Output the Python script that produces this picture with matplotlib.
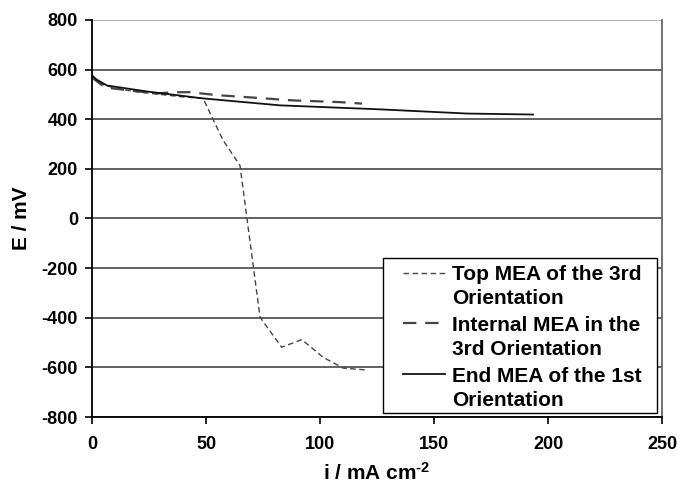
import numpy as np
import matplotlib.pyplot as plt
from matplotlib.lines import Line2D
from matplotlib.patches import Rectangle

# polarisation data
top_i = [0, 5, 10, 20, 30, 40, 48.7, 57.5, 64.9, 73.7, 83.2, 92, 101.3, 110.2, 119.7]
top_e = [570, 540, 525, 510, 500, 490, 484, 315, 214, -398, -519, -488, -559, -603, -610]

int_i = [0, 5.7, 16.7, 28.5, 35.5, 43, 55, 68, 88, 108.8, 118.4]
int_e = [568, 528, 516, 504, 509, 509, 497, 489, 476, 469, 463]

end_i = [0, 2, 6.6, 24, 48.7, 82.5, 126, 164.5, 193.4]
end_e = [577, 560, 536, 512, 484, 456, 440, 423, 419]

labels = ['Top MEA of the 3rd\nOrientation',
          'Internal MEA in the\n3rd Orientation',
          'End MEA of the 1st\nOrientation']

plt.rcParams['font.family'] = ['Liberation Sans', 'DejaVu Sans']
plt.rcParams['font.weight'] = 'bold'
plt.rcParams['axes.unicode_minus'] = False
plt.rcParams['mathtext.fontset'] = 'custom'
plt.rcParams['mathtext.bf'] = 'Liberation Sans:bold'
plt.rcParams['mathtext.rm'] = 'Liberation Sans:bold'
plt.rcParams['mathtext.default'] = 'bf'

W, H = 677, 483
fig = plt.figure(figsize=(W/100, H/100), dpi=100)
ax = fig.add_axes([92/W, 1 - 417/H, 570/W, 397/H])

styles = [dict(color='#444444', lw=1.0, dashes=(4, 2.5)),
          dict(color='#444444', lw=1.6, dashes=(6, 4)),
          dict(color='#111111', lw=1.3)]

ax.plot(top_i, top_e, **styles[0])
ax.plot(int_i, int_e, **styles[1])
ax.plot(end_i, end_e, **styles[2])

ax.set_xlim(0, 250)
ax.set_ylim(-800, 800)
ax.set_xticks(np.arange(0, 251, 50))
ax.set_yticks(np.arange(-800, 801, 200))
ax.grid(axis='y', color='#555555', lw=1.3)
ax.set_axisbelow(True)
ax.get_ygridlines()[-1].set_color('#aaaaaa')
for s in ['top', 'right']:
    ax.spines[s].set_visible(False)
ax.spines['left'].set_linewidth(1.3)
ax.spines['bottom'].set_linewidth(1.3)
ax.tick_params(direction='out', length=5, width=1.2, labelsize=13)
ax.tick_params(axis='x', pad=9)
ax.tick_params(axis='y', pad=5)
for t in ax.get_xticklabels() + ax.get_yticklabels():
    t.set_fontweight('bold')
ax.axvline(250, color='#666666', lw=1.3, clip_on=False)

ax.set_xlabel(r'i / mA cm$^{\text{-2}}$', fontsize=15, fontweight='bold', labelpad=6)
ax.set_ylabel('E / mV', fontsize=15, fontweight='bold', labelpad=8)

# legend box drawn by hand (handle sits on the first line of each label)
def fx(px):
    return px / W

def fy(py):
    return 1 - py / H

fig.patches.append(Rectangle((fx(383), fy(413)), fx(657) - fx(383), fy(258) - fy(413),
                             transform=fig.transFigure, facecolor='white',
                             edgecolor='black', lw=1.0, zorder=5))
row_y = [272.7, 323.3, 374]
for lab, st, yy in zip(labels, styles, row_y):
    fig.add_artist(Line2D([fx(403), fx(445)], [fy(yy), fy(yy)],
                          transform=fig.transFigure, zorder=6, **st))
    fig.text(fx(452), fy(yy - 7.5), lab, fontsize=15, fontweight='bold',
             va='top', ha='left', linespacing=1.34, zorder=6)

plt.savefig('out.png', dpi=100)
